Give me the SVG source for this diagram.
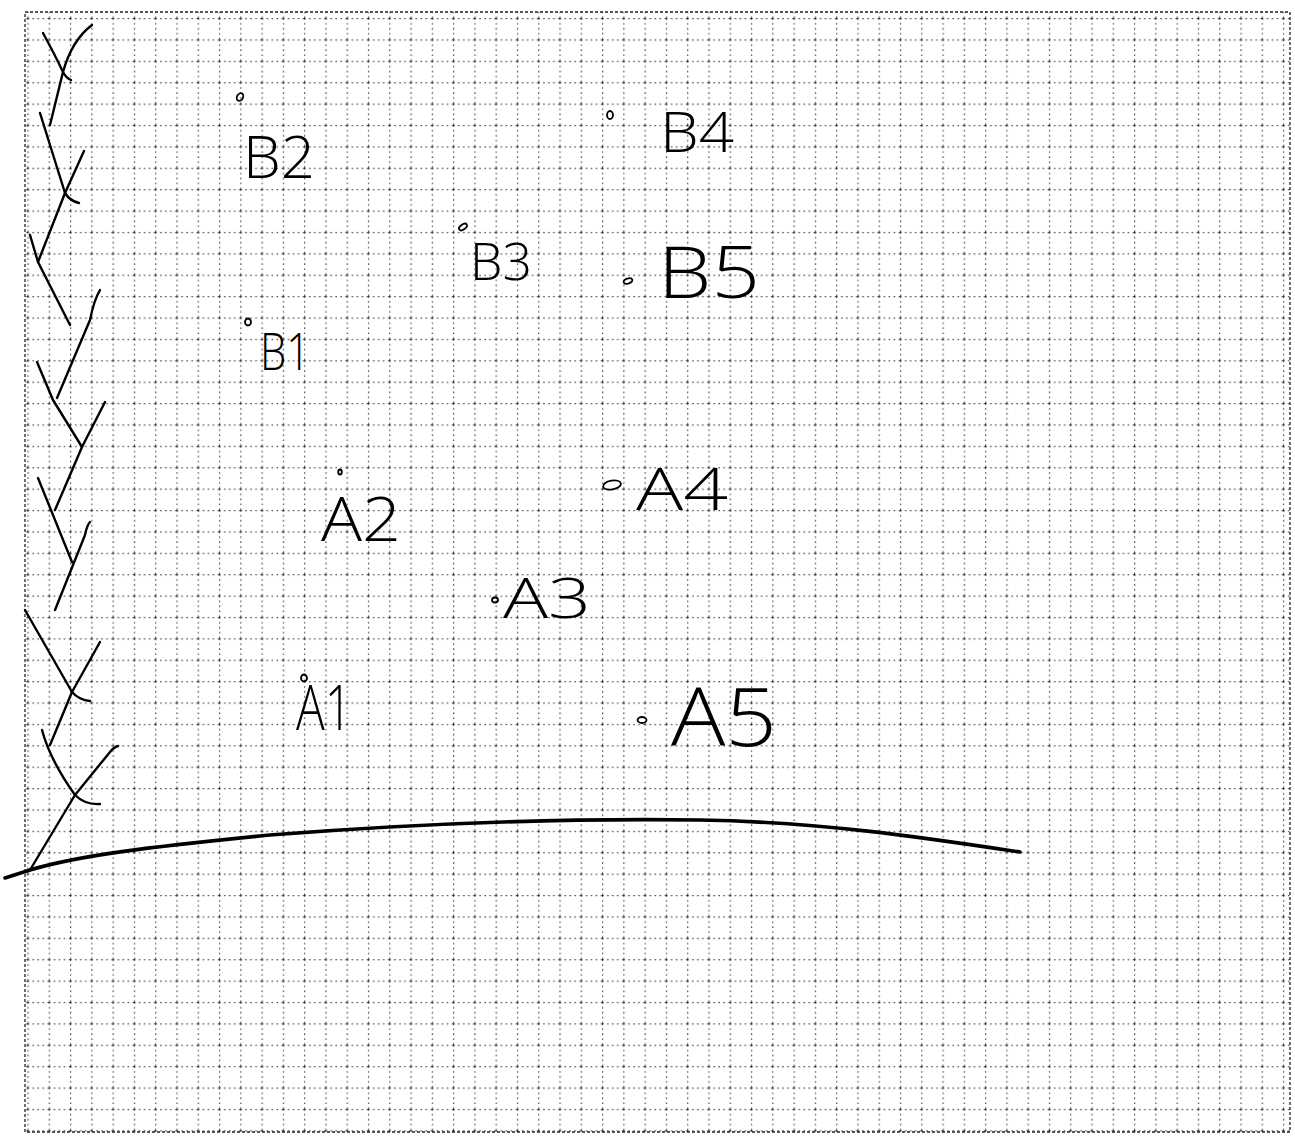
<svg xmlns="http://www.w3.org/2000/svg" width="1295" height="1136" viewBox="0 0 1295 1136">
  <style>
    .grid { stroke: #222; stroke-width: 1.2; stroke-dasharray: 1.6 3.4; fill: none; opacity: 0.8; }
    .border { stroke: #222; stroke-width: 1.3; stroke-dasharray: 3 2; fill: none; }
    .ink { stroke: #000; stroke-width: 2.4; fill: none; stroke-linecap: round; stroke-linejoin: round; }
    .base { stroke: #000; stroke-width: 3.6; fill: none; stroke-linecap: round; }
    .pt { stroke: #000; stroke-width: 1.8; fill: none; }
    .lbl { font-family: "Open Sans", "Liberation Sans", sans-serif; font-weight: 300; fill: #000; }
  </style>
  <defs>
    <pattern id="gridPat" patternUnits="userSpaceOnUse" x="70" y="18" width="21.28" height="21.39">
      <line class="grid" x1="0" y1="0.6" x2="21.28" y2="0.6"/>
      <line class="grid" x1="0.6" y1="0" x2="0.6" y2="21.39"/>
    </pattern>
  </defs>
  <rect width="1295" height="1136" fill="#fff"/>
  <g id="paper">
    <rect x="25" y="12" width="1265" height="1120" fill="url(#gridPat)"/>
    <rect class="border" x="25" y="12" width="1265" height="1120"/>
  </g>

  <g id="connectors">
    <path class="ink" d="M43,33 Q55,55 63,72 Q66,78 71,80"/>
    <path class="ink" d="M92,25 Q72,40 63,72 L50,125"/>
    <path class="ink" d="M40,113 L65,193 Q70,201 79,203"/>
    <path class="ink" d="M84,151 L65,193 L38,262"/>
    <path class="ink" d="M30,235 L38,262 L70,325"/>
    <path class="ink" d="M100,290 Q94,300 90,320 L57,398"/>
    <path class="ink" d="M37,362 L53,400 L82,447"/>
    <path class="ink" d="M105,402 L82,447 L55,510"/>
    <path class="ink" d="M38,478 L72,562"/>
    <path class="ink" d="M90,522 Q87,525 85,535 L55,610"/>
    <path class="ink" d="M25,610 L72,692 Q79,700 90,701"/>
    <path class="ink" d="M100,642 L72,692 L50,745"/>
    <path class="ink" d="M42,730 Q50,760 75,795 Q85,805 100,804"/>
    <path class="ink" d="M118,746 Q114,747 110,752 L75,795 L30,870"/>
    <path class="base" d="M5,878 L30,870 C80,855 150,847 270,835 C400,825 560,818 700,820 C820,822 920,837 1020,852"/>
  </g>

  <g id="B2">
    <ellipse class="pt" cx="240" cy="97" rx="3" ry="4" transform="rotate(30 240 97)"/>
    <text class="lbl" x="243" y="178" font-size="58" textLength="72" lengthAdjust="spacingAndGlyphs">B2</text>
  </g>
  <g id="B4">
    <ellipse class="pt" cx="610" cy="115" rx="3" ry="4"/>
    <text class="lbl" x="660" y="152" font-size="56" textLength="74" lengthAdjust="spacingAndGlyphs">B4</text>
  </g>
  <g id="B3">
    <ellipse class="pt" cx="463" cy="227" rx="4.5" ry="2.5" transform="rotate(-35 463 227)"/>
    <text class="lbl" x="470" y="280" font-size="52" textLength="62" lengthAdjust="spacingAndGlyphs">B3</text>
  </g>
  <g id="B5">
    <ellipse class="pt" cx="628" cy="281" rx="4.5" ry="2.5" transform="rotate(-20 628 281)"/>
    <text class="lbl" x="658" y="298" font-size="72" textLength="102" lengthAdjust="spacingAndGlyphs">B5</text>
  </g>
  <g id="B1">
    <ellipse class="pt" cx="248" cy="322" rx="3" ry="3.5"/>
    <text class="lbl" x="260" y="370" font-size="52" textLength="50" lengthAdjust="spacingAndGlyphs">B1</text>
  </g>
  <g id="A2">
    <ellipse class="pt" cx="340" cy="472" rx="1.8" ry="2.5"/>
    <text class="lbl" x="321" y="541" font-size="60" textLength="80" lengthAdjust="spacingAndGlyphs">A2</text>
  </g>
  <g id="A4">
    <ellipse class="pt" cx="612" cy="485" rx="9" ry="4.5" transform="rotate(-10 612 485)"/>
    <text class="lbl" x="636" y="510" font-size="58" textLength="92" lengthAdjust="spacingAndGlyphs">A4</text>
  </g>
  <g id="A3">
    <ellipse class="pt" cx="495" cy="600" rx="3" ry="2.5"/>
    <text class="lbl" x="503" y="618" font-size="56" textLength="88" lengthAdjust="spacingAndGlyphs">A3</text>
  </g>
  <g id="A1">
    <ellipse class="pt" cx="304" cy="678" rx="3" ry="3.5"/>
    <text class="lbl" x="296" y="730" font-size="62" textLength="56" lengthAdjust="spacingAndGlyphs">A1</text>
  </g>
  <g id="A5">
    <ellipse class="pt" cx="642" cy="720" rx="4.5" ry="3"/>
    <text class="lbl" x="671" y="746" font-size="82" textLength="106" lengthAdjust="spacingAndGlyphs">A5</text>
  </g>
</svg>
